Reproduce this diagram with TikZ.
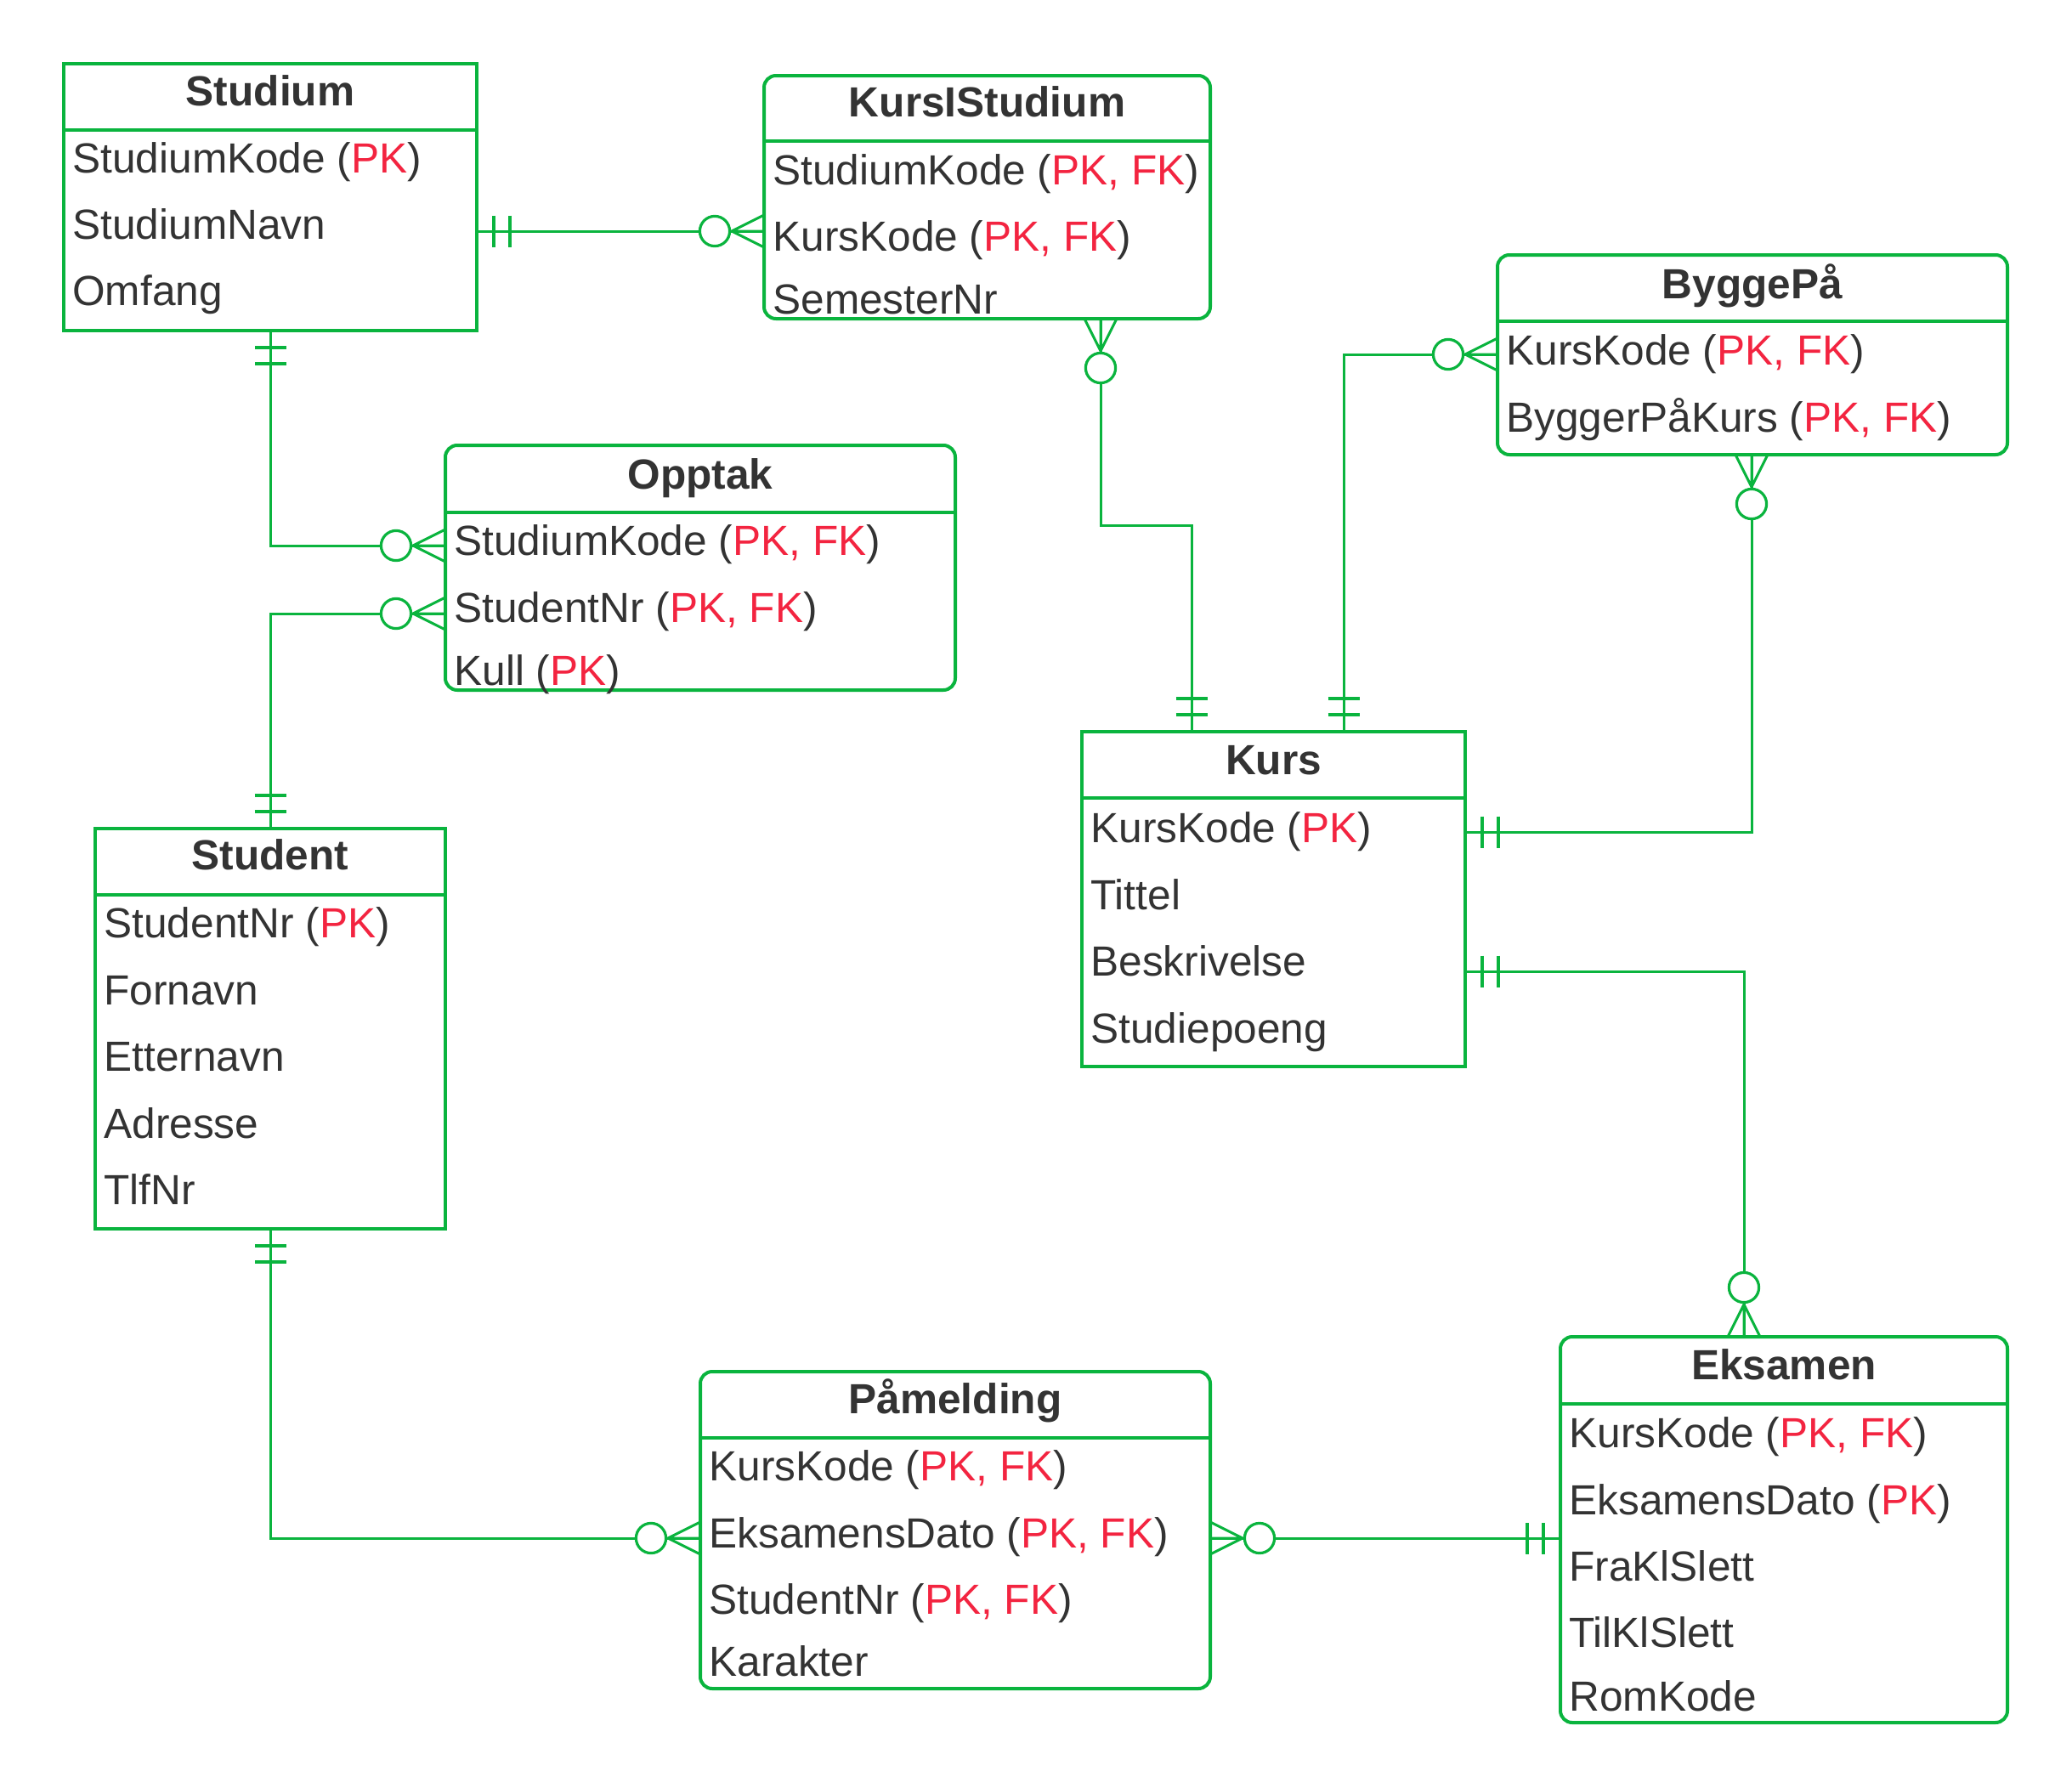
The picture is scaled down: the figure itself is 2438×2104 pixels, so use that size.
\documentclass[tikz,border=0pt]{standalone}
\usepackage{fontspec}
\setmainfont{Liberation Sans}
\definecolor{erg}{RGB}{10,180,62}
\definecolor{erred}{RGB}{243,36,64}
\definecolor{ertxt}{RGB}{51,51,51}
\newcommand\pk[1]{\textcolor{erred}{#1}}
\newcommand\zmany[2]{\begin{scope}[shift={(#1)},rotate=#2]
  \draw[ln] (38,0)--(0,19) (38,0)--(0,-19) (0,0)--(42,0);
  \draw[ln,line width=1.6pt,fill=white] (58,0) circle[radius=8.8pt];\end{scope}}
\newcommand\oone[2]{\begin{scope}[shift={(#1)},rotate=#2]
  \draw[ln,line width=2pt] (20,-18.5)--(20,18.5) (39,-18.5)--(39,18.5);\end{scope}}
\begin{document}
\begin{tikzpicture}[x=0.5pt,y=-0.5pt,
  ln/.style={draw=erg,line width=1.5pt},
  dv/.style={draw=erg,line width=2pt},
  ent/.style={draw=erg,line width=2pt,rectangle,inner sep=0pt,outer sep=0pt,anchor=north west},
  rnd/.style={ent,rounded corners=7pt},
  attr/.style={anchor=base west,inner sep=0pt,text=ertxt,font=\fontsize{24.8}{29.8}\selectfont},
  ttl/.style={anchor=base,inner sep=0pt,text=ertxt,font=\fontsize{24.8}{29.8}\selectfont\bfseries}]
\fill[white] (0,0) rectangle (2438,2104);
\useasboundingbox (0,0) rectangle (2438,2104);

% ---------- Studium
\node[ent,minimum width=243pt,minimum height=157pt] (studium) at (75,75) {};
\draw[dv] (studium.west |- 0,153) -- (studium.east |- 0,153);
\node[ttl] (studiumT) at (studium.north |- 0,124) {Studium};
\node[attr] (studiumA1) at (85,203) {StudiumKode (\pk{PK})};
\node[attr] (studiumA2) at (85,281) {StudiumNavn};
\node[attr] (studiumA3) at (85,359) {Omfang};

% ---------- KursIStudium
\node[rnd,minimum width=262.5pt,minimum height=143pt] (kis) at (899,89) {};
\draw[dv] (kis.west |- 0,166) -- (kis.east |- 0,166);
\node[ttl] (kisT) at (kis.north |- 0,137) {KursIStudium};
\node[attr] (kisA1) at (909,217) {StudiumKode (\pk{PK, FK})};
\node[attr] (kisA2) at (909,295) {KursKode (\pk{PK, FK})};
\node[attr] (kisA3) at (909,369) {SemesterNr};

% ---------- ByggePå
\node[rnd,minimum width=300pt,minimum height=117.5pt] (bygg) at (1762,300) {};
\draw[dv] (bygg.west |- 0,378) -- (bygg.east |- 0,378);
\node[ttl] (byggT) at (bygg.north |- 0,351) {ByggePå};
\node[attr] (byggA1) at (1772,429) {KursKode (\pk{PK, FK})};
\node[attr] (byggA2) at (1772,508) {ByggerPåKurs (\pk{PK, FK})};

% ---------- Opptak
\node[rnd,minimum width=300pt,minimum height=144pt] (opptak) at (524,524) {};
\draw[dv] (opptak.west |- 0,603) -- (opptak.east |- 0,603);
\node[ttl] (opptakT) at (opptak.north |- 0,575) {Opptak};
\node[attr] (opptakA1) at (534,653) {StudiumKode (\pk{PK, FK})};
\node[attr] (opptakA2) at (534,732) {StudentNr (\pk{PK, FK})};
\node[attr] (opptakA3) at (534,806) {Kull (\pk{PK})};

% ---------- Kurs
\node[ent,minimum width=225.5pt,minimum height=197pt] (kurs) at (1273,861) {};
\draw[dv] (kurs.west |- 0,939) -- (kurs.east |- 0,939);
\node[ttl] (kursT) at (kurs.north |- 0,911) {Kurs};
\node[attr] (kursA1) at (1283,991) {KursKode (\pk{PK})};
\node[attr] (kursA2) at (1283,1070) {Tittel};
\node[attr] (kursA3) at (1283,1148) {Beskrivelse};
\node[attr] (kursA4) at (1283,1227) {Studiepoeng};

% ---------- Student
\node[ent,minimum width=206pt,minimum height=235.5pt] (student) at (112,975) {};
\draw[dv] (student.west |- 0,1053) -- (student.east |- 0,1053);
\node[ttl] (studentT) at (student.north |- 0,1023) {Student};
\node[attr] (studentA1) at (122,1103) {StudentNr (\pk{PK})};
\node[attr] (studentA2) at (122,1182) {Fornavn};
\node[attr] (studentA3) at (122,1260) {Etternavn};
\node[attr] (studentA4) at (122,1339) {Adresse};
\node[attr] (studentA5) at (122,1417) {TlfNr};

% ---------- Påmelding
\node[rnd,minimum width=300pt,minimum height=186.5pt] (paam) at (824,1614) {};
\draw[dv] (paam.west |- 0,1692) -- (paam.east |- 0,1692);
\node[ttl] (paamT) at (paam.north |- 0,1663) {Påmelding};
\node[attr] (paamA1) at (834,1742) {KursKode (\pk{PK, FK})};
\node[attr] (paamA2) at (834,1821) {EksamensDato (\pk{PK, FK})};
\node[attr] (paamA3) at (834,1899) {StudentNr (\pk{PK, FK})};
\node[attr] (paamA4) at (834,1972) {Karakter};

% ---------- Eksamen
\node[rnd,minimum width=263pt,minimum height=227pt] (eks) at (1836,1573) {};
\draw[dv] (eks.west |- 0,1652) -- (eks.east |- 0,1652);
\node[ttl] (eksT) at (eks.north |- 0,1623) {Eksamen};
\node[attr] (eksA1) at (1846,1703) {KursKode (\pk{PK, FK})};
\node[attr] (eksA2) at (1846,1782) {EksamensDato (\pk{PK})};
\node[attr] (eksA3) at (1846,1860) {FraKlSlett};
\node[attr] (eksA4) at (1846,1938) {TilKlSlett};
\node[attr] (eksA5) at (1846,2013) {RomKode};

% ---------- connector end points
\coordinate (c1a) at (studium.east |- 0,272);
\coordinate (c1b) at (kis.west |- 0,272);
\coordinate (c2a) at (studium.south);
\coordinate (c2b) at (opptak.west |- 0,642);
\coordinate (c3a) at (student.north);
\coordinate (c3b) at (opptak.west |- 0,722);
\coordinate (c4a) at (kis.south -| 1295,0);
\coordinate (c4b) at (kurs.north -| 1402,0);
\coordinate (c5a) at (bygg.west |- 0,417);
\coordinate (c5b) at (kurs.north -| 1581,0);
\coordinate (c6a) at (bygg.south -| 2061,0);
\coordinate (c6b) at (kurs.east |- 0,979);
\coordinate (c7a) at (kurs.east |- 0,1143);
\coordinate (c7b) at (eks.north -| 2052,0);
\coordinate (c8a) at (student.south);
\coordinate (c8b) at (paam.west |- 0,1810);
\coordinate (c9a) at (paam.east |- 0,1810);
\coordinate (c9b) at (eks.west |- 0,1810);

% ---------- connectors
\draw[ln] (c1a) -- (c1b);
\draw[ln] (c2a) |- (c2b);
\draw[ln] (c3a) |- (c3b);
\draw[ln] (c4a) -- (1295,618) -| (c4b);
\draw[ln] (c5a) -| (c5b);
\draw[ln] (c6a) |- (c6b);
\draw[ln] (c7a) -| (c7b);
\draw[ln] (c8a) |- (c8b);
\draw[ln] (c9a) -- (c9b);

% ---------- cardinality marks
\oone{c1a}{0}   \zmany{c1b}{180}
\oone{c2a}{270} \zmany{c2b}{180}
\oone{c3a}{90}  \zmany{c3b}{180}
\zmany{c4a}{270} \oone{c4b}{90}
\zmany{c5a}{180} \oone{c5b}{90}
\zmany{c6a}{270} \oone{c6b}{0}
\oone{c7a}{0}   \zmany{c7b}{90}
\oone{c8a}{270} \zmany{c8b}{180}
\zmany{c9a}{0}  \oone{c9b}{180}
\end{tikzpicture}
\end{document}
